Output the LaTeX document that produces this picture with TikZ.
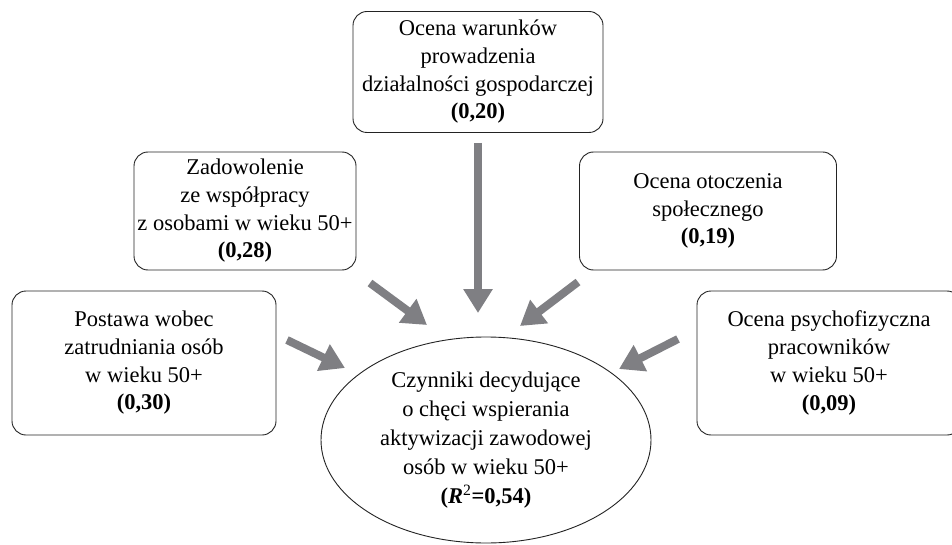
\documentclass[tikz,border=0pt]{standalone}
\usepackage{fontspec}
\setmainfont{Liberation Serif}
\usetikzlibrary{arrows.meta,shapes.geometric}
\definecolor{arrowgray}{RGB}{127,127,131}
\definecolor{edgegray}{RGB}{35,35,35}
\tikzset{
  txt/.style={font=\fontsize{22.5}{27.7}\selectfont, align=center},
  factorbox/.style={txt, draw=edgegray, line width=0.9pt, rounded corners=14pt, inner sep=0pt},
  targetell/.style={font=\fontsize{22.5}{29}\selectfont, align=center, ellipse, draw=edgegray, line width=0.9pt, inner sep=0pt},
  fatarrow/.style={draw=arrowgray, line width=8pt, -{Triangle[length=24pt,width=28pt]}}
}
\begin{document}
\begin{tikzpicture}[x=1pt,y=-1pt]
\useasboundingbox (0,0) rectangle (952,545);
\clip (0,0) rectangle (952,545);
\fill[white] (0,0) rectangle (952,545);

\node[factorbox, minimum width=250pt, minimum height=121pt] (top) at (478,72)
  {Ocena warunków\\prowadzenia\\działalności gospodarczej\\\textbf{(0,20)}};
\node[factorbox, minimum width=222pt, minimum height=118pt] (ul) at (245,211)
  {Zadowolenie\\ze współpracy\\z osobami w wieku 50+\\\textbf{(0,28)}};
\node[factorbox, minimum width=257pt, minimum height=118pt] (ur) at (708,211)
  {Ocena otoczenia\\społecznego\\\textbf{(0,19)}};
\node[factorbox, minimum width=264pt, minimum height=144pt] (ll) at (144,363)
  {Postawa wobec\\zatrudniania osób\\w wieku 50+\\\textbf{(0,30)}};
\node[factorbox, minimum width=264pt, minimum height=144pt] (lr) at (829,363)
  {Ocena psychofizyczna\\pracowników\\w wieku 50+\\\textbf{(0,09)}};
\node[targetell, minimum width=330pt, minimum height=206pt] (goal) at (486,440)
  {Czynniki decydujące\\o chęci wspierania\\aktywizacji zawodowej\\osób w wieku 50+\\\textbf{(\textit{R}\textsuperscript{\normalfont 2}=0,54)}};

\coordinate (a1s) at (478,143); \coordinate (a1e) at (478,313);
\coordinate (a2s) at (370,283); \coordinate (a2e) at (427,325);
\coordinate (a3s) at (287,340); \coordinate (a3e) at (345,368);
\coordinate (a4s) at (578,282); \coordinate (a4e) at (520,326);
\coordinate (a5s) at (678,339); \coordinate (a5e) at (619,369);

\draw[fatarrow] (a1s) -- (a1e);
\draw[fatarrow] (a2s) -- (a2e);
\draw[fatarrow] (a3s) -- (a3e);
\draw[fatarrow] (a4s) -- (a4e);
\draw[fatarrow] (a5s) -- (a5e);
\end{tikzpicture}
\end{document}
